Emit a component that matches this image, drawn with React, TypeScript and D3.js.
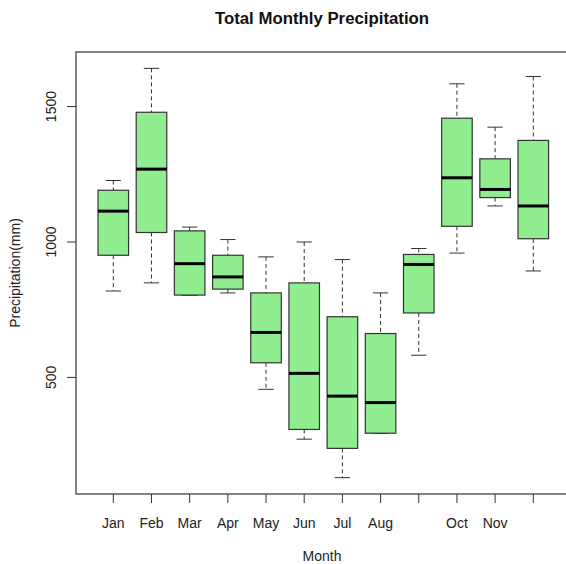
import React from "react";
import * as d3 from "d3";

const months = ["Jan","Feb","Mar","Apr","May","Jun","Jul","Aug","Sep","Oct","Nov","Dec"];
const tickLabels = ["Jan","Feb","Mar","Apr","May","Jun","Jul","Aug","","Oct","Nov",""];
const lowerWhisker = [819, 849, 803, 812, 456, 272, 130, 293, 582, 959, 1133, 893];
const q1 = [951, 1035, 804, 826, 554, 308, 238, 294, 738, 1058, 1164, 1012];
const medians = [1114, 1269, 920, 871, 666, 515, 431, 407, 917, 1237, 1194, 1133];
const q3 = [1191, 1479, 1041, 951, 812, 849, 724, 662, 954, 1457, 1307, 1375];
const upperWhisker = [1227, 1641, 1055, 1009, 945, 1000, 935, 812, 976, 1584, 1424, 1611];
const yTicks = [500, 1000, 1500];

export default function App() {
  const W = 566, H = 564;
  const left = 76, right = 568, top = 52, bottom = 494;
  const x = d3.scaleLinear().domain([1, 12]).range([113.3, 533.3]);
  const step = x(2) - x(1);
  const bw = step * 0.8;
  const lo = d3.min(lowerWhisker)!;
  const hi = d3.max(upperWhisker)!;
  const pad = (hi - lo) * 0.04;
  const y = d3.scaleLinear().domain([lo - pad, hi + pad]).range([bottom, top]);
  const font = "Liberation Sans, Arial, sans-serif";
  const stroke = "#333";
  return (
    <svg width={W} height={H} style={{ position: "absolute", left: 0, top: 0 }}>
      <rect width={W} height={H} fill="#fff" />
      <text x={322} y={24} textAnchor="middle" fontFamily={font} fontWeight="bold" fontSize={16.8} fill="#111">
        Total Monthly Precipitation
      </text>
      {months.map((m, i) => {
        const cx = x(i + 1);
        return (
          <g key={m}>
            <line x1={cx} x2={cx} y1={y(upperWhisker[i])} y2={y(q3[i])} stroke={stroke} strokeDasharray="4,3" />
            <line x1={cx} x2={cx} y1={y(q1[i])} y2={y(lowerWhisker[i])} stroke={stroke} strokeDasharray="4,3" />
            <line x1={cx - bw / 4} x2={cx + bw / 4} y1={y(upperWhisker[i])} y2={y(upperWhisker[i])} stroke={stroke} />
            <line x1={cx - bw / 4} x2={cx + bw / 4} y1={y(lowerWhisker[i])} y2={y(lowerWhisker[i])} stroke={stroke} />
            <rect x={cx - bw / 2} y={y(q3[i])} width={bw} height={y(q1[i]) - y(q3[i])} fill="#90EE90" stroke={stroke} strokeWidth={1.2} />
            <line x1={cx - bw / 2} x2={cx + bw / 2} y1={y(medians[i])} y2={y(medians[i])} stroke="#000" strokeWidth={3} />
          </g>
        );
      })}
      <rect x={left} y={top} width={right - left} height={bottom - top} fill="none" stroke={stroke} strokeWidth={1.2} />
      {months.map((m, i) => (
        <g key={"t" + m}>
          <line x1={x(i + 1)} x2={x(i + 1)} y1={bottom} y2={bottom + 9} stroke={stroke} />
          <text x={x(i + 1)} y={528} textAnchor="middle" fontFamily={font} fontSize={14} fill="#222">
            {tickLabels[i]}
          </text>
        </g>
      ))}
      {yTicks.map((t) => (
        <g key={"y" + t}>
          <line x1={left - 9} x2={left} y1={y(t)} y2={y(t)} stroke={stroke} />
          <text transform={`translate(56,${y(t)}) rotate(-90)`} textAnchor="middle" fontFamily={font} fontSize={14} fill="#222">
            {t}
          </text>
        </g>
      ))}
      <text x={322} y={561} textAnchor="middle" fontFamily={font} fontSize={14} fill="#222">Month</text>
      <text transform={`translate(20,${(top + bottom) / 2}) rotate(-90)`} textAnchor="middle" fontFamily={font} fontSize={14} fill="#222">
        Precipitation(mm)
      </text>
    </svg>
  );
}
